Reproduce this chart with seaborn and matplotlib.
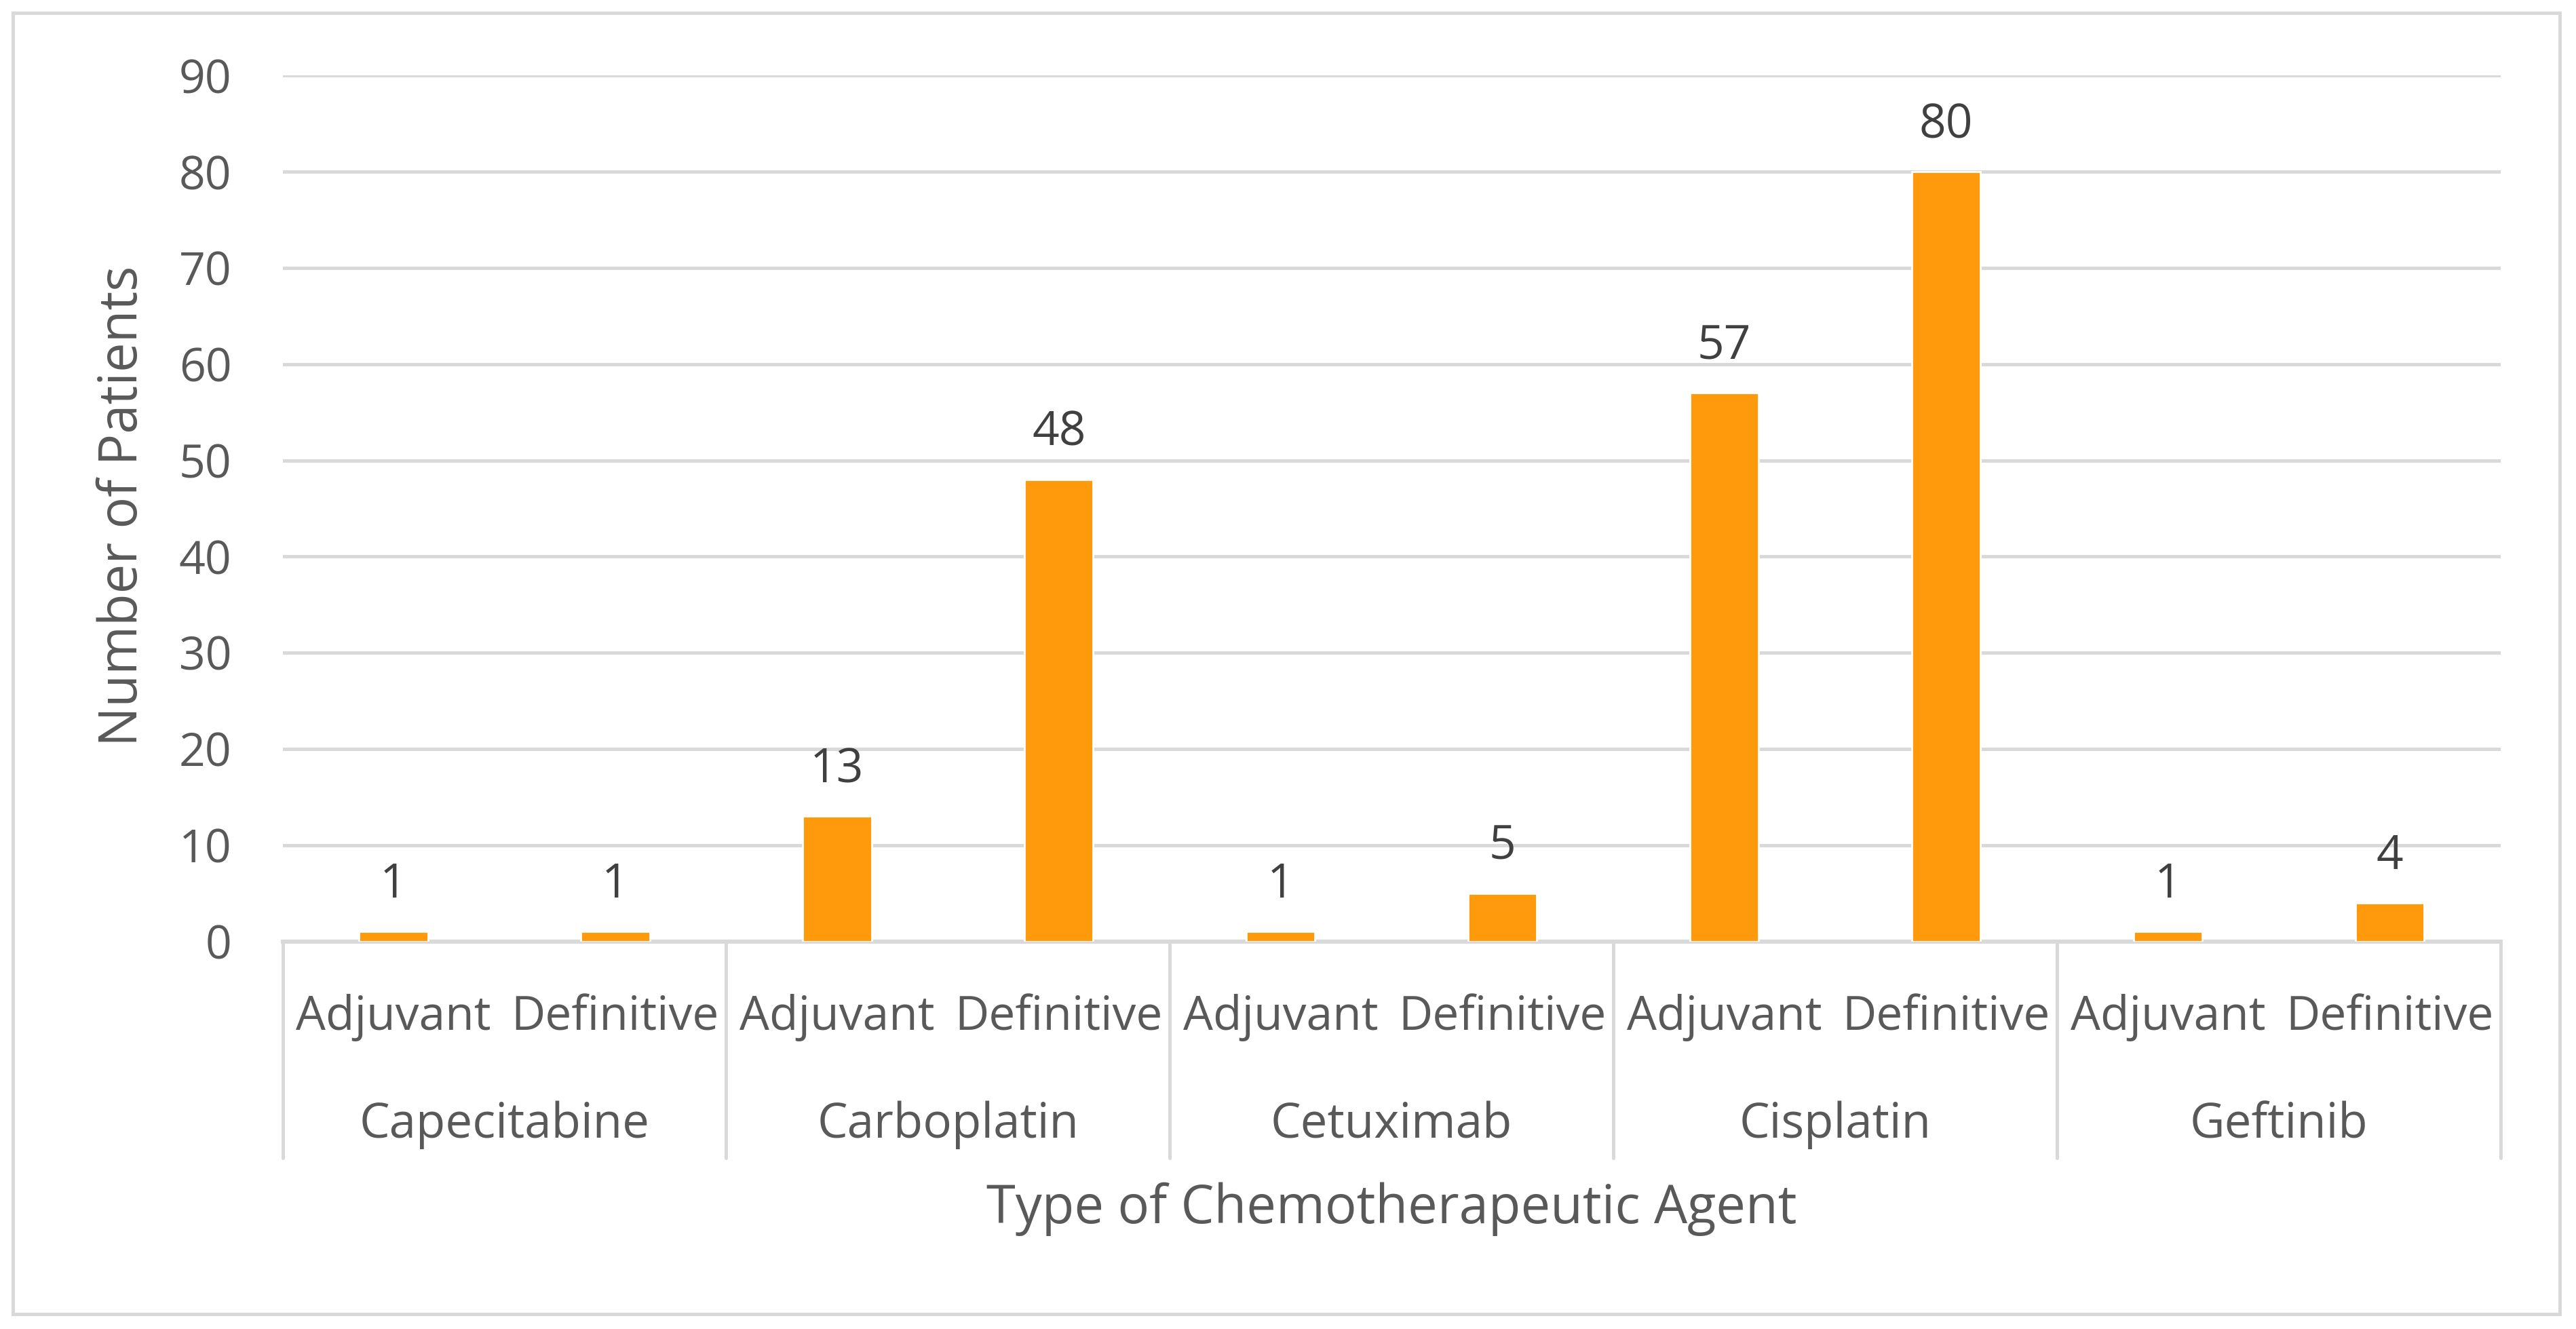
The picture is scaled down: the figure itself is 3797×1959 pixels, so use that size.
import pandas as pd
import numpy as np

# Plot
import seaborn as sns
import matplotlib.pyplot as plt
from matplotlib.patches import Rectangle
from matplotlib.transforms import blended_transform_factory

# Data
agents = ["Capecitabine", "Carboplatin", "Cetuximab", "Cisplatin", "Geftinib"]
settings = ["Adjuvant", "Definitive"]
adjuvant = [1, 13, 1, 57, 1]
definitive = [1, 48, 5, 80, 4]
y_ticks = [0, 10, 20, 30, 40, 50, 60, 70, 80, 90]

rows = []
for agent, a, d in zip(agents, adjuvant, definitive):
    rows.append({"agent": agent, "setting": "Adjuvant", "patients": a})
    rows.append({"agent": agent, "setting": "Definitive", "patients": d})
df = pd.DataFrame(rows)
df["slot"] = df["agent"] + "|" + df["setting"]

BAR = "#FF9A0C"
GRID = "#D9D9D9"
TXT = "#595959"
LBL = "#404040"

sns.set_theme(style="white")
plt.rcParams["font.family"] = ["Open Sans", "DejaVu Sans"]

fig = plt.figure(figsize=(18.985, 9.795), dpi=200)
ax = fig.add_axes([0.1097, 0.2917, 0.861, 0.6514])

sns.barplot(data=df, x="slot", y="patients", color=BAR, saturation=1,
            width=0.31, ax=ax, zorder=3)

ax.set_ylim(0, 90)
ax.set_xlim(-0.5, len(df) - 0.5)
ax.set_yticks(y_ticks)
ax.yaxis.grid(True, color=GRID, linewidth=1.8, zorder=0)
ax.set_axisbelow(True)
for side in ["top", "right", "left"]:
    ax.spines[side].set_visible(False)
ax.spines["bottom"].set_color(GRID)
ax.spines["bottom"].set_linewidth(2.2)
ax.tick_params(axis="y", length=0, pad=27, labelsize=24.5, labelcolor=TXT)
ax.tick_params(axis="x", length=0, pad=28, labelsize=25, labelcolor=TXT)
ax.set_xticks(range(len(df)))
ax.set_xticklabels(df["setting"])
ax.set_xlabel("")
ax.set_ylabel("")

# data labels
for bar, val in zip(ax.patches, df["patients"]):
    ax.annotate(str(val), (bar.get_x() + bar.get_width() / 2, bar.get_height()),
                xytext=(0, 18), textcoords="offset points", ha="center",
                va="baseline", fontsize=25, color=LBL)

# group labels and separators under the axis
trans = blended_transform_factory(ax.transData, ax.transAxes)
for i, agent in enumerate(agents):
    ax.text(2 * i + 0.5, -0.2125, agent, transform=trans, ha="center",
            va="center", fontsize=25.5, color=TXT)
for b in np.arange(-0.5, len(df), 2):
    ax.plot([b, b], [0, -0.2505], transform=trans, color=GRID,
            linewidth=1.8, clip_on=False)

fig.text(0.5402, 1 - 736 / 809, "Type of Chemotherapeutic Agent", ha="center",
         va="center", fontsize=28, color=TXT)
fig.text(0.0478, 1 - 308 / 809, "Number of Patients", ha="center",
         va="center", rotation=90, fontsize=28, color=TXT)

# outer chart border
fig.patches.append(Rectangle((0.0051, 0.0111), 0.9885, 0.979, transform=fig.transFigure,
                             fill=False, edgecolor=GRID, linewidth=1.8))

fig.savefig("out.png", dpi=200)
